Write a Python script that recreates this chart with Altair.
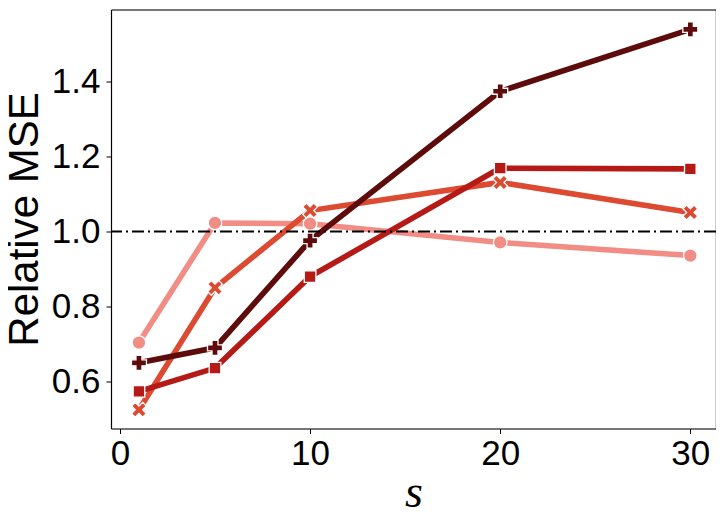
import altair as alt
import pandas as pd

# ---- data ----
s_values = [1, 5, 10, 20, 30]
series_names = ["method 1", "method 2", "method 3", "method 4"]
mse_1 = [0.704, 1.023, 1.021, 0.971, 0.936]
mse_2 = [0.525, 0.850, 1.056, 1.131, 1.051]
mse_3 = [0.574, 0.636, 0.880, 1.169, 1.167]
mse_4 = [0.650, 0.690, 0.976, 1.374, 1.539]
baseline_value = 1.0

series_values = [mse_1, mse_2, mse_3, mse_4]
series_colors = ["#F28D86", "#DC4A32", "#B51A16", "#5E0B0B"]
X_PATH = ("M-1,-0.5 L-0.5,-1 L0,-0.5 L0.5,-1 L1,-0.5 L0.5,0 L1,0.5 "
          "L0.5,1 L0,0.5 L-0.5,1 L-1,0.5 L-0.5,0 Z")
series_shapes = ["circle", X_PATH, "square", "cross"]
series_sizes = [185, 220, 135, 225]

rows = []
for name, vals in zip(series_names, series_values):
    for s, v in zip(s_values, vals):
        rows.append({"s": s, "mse": v, "series": name})
df = pd.DataFrame(rows)

x_scale = alt.Scale(domain=[-0.47, 31.35], nice=False, zero=False)
y_scale = alt.Scale(domain=[0.475, 1.592], nice=False, zero=False)

x_axis = alt.Axis(values=[0, 10, 20, 30], title="s", grid=False,
                  labelFontSize=35, labelFont="Liberation Sans", labelColor="black",
                  tickSize=5, tickColor="black", domainColor="black", domainWidth=1.2,
                  labelPadding=3,
                  titleFont="Liberation Serif", titleFontStyle="italic",
                  titleFontWeight="normal", titleFontSize=46, titleColor="black",
                  titleBaseline="alphabetic", titleY=78, titleX=302.5,
                  titleAlign="center")
y_axis = alt.Axis(values=[0.6, 0.8, 1.0, 1.2, 1.4], format=".1f", title="Relative MSE",
                  grid=False, labelFontSize=35, labelFont="Liberation Sans",
                  labelColor="black", tickSize=5, tickColor="black",
                  domainColor="black", domainWidth=1.2, labelPadding=6,
                  titleFont="Liberation Sans", titleFontWeight="normal",
                  titleFontSize=42, titleColor="black",
                  titleX=-74, titleY=209.5, titleBaseline="alphabetic",
                  titleAlign="center", titleAngle=270)
top_axis = alt.Axis(orient="top", title=None, labels=False, ticks=False, grid=False,
                    domainColor="black", domainWidth=1.2)
right_axis = alt.Axis(orient="right", title=None, labels=False, ticks=False, grid=False,
                      domainColor="black", domainWidth=1.2)

layers = []
for i, name in enumerate(series_names):
    base = alt.Chart(df).transform_filter(alt.datum.series == name)
    line = base.mark_line(strokeWidth=5.6, color=series_colors[i]).encode(
        x=alt.X("s:Q", scale=x_scale, axis=x_axis),
        y=alt.Y("mse:Q", scale=y_scale, axis=y_axis),
    )
    pts = base.mark_point(filled=True, fill=series_colors[i], stroke="white",
                          strokeWidth=1.3, opacity=1,
                          shape=series_shapes[i], size=series_sizes[i]).encode(
        x=alt.X("s:Q", scale=x_scale, axis=x_axis),
        y=alt.Y("mse:Q", scale=y_scale, axis=y_axis),
    )
    layers += [line, pts]

main = alt.layer(*layers)

rule = alt.Chart(pd.DataFrame({"v": [baseline_value], "u": [15.0]})).mark_rule(
    color="black", strokeWidth=2, strokeDash=[12, 4, 2, 4]
).encode(
    y=alt.Y("v:Q", scale=y_scale, axis=right_axis),
)
frame = alt.Chart(pd.DataFrame({"v": [baseline_value], "u": [15.0]})).mark_point(
    opacity=0, size=1
).encode(
    x=alt.X("u:Q", scale=x_scale, axis=top_axis),
    y=alt.Y("v:Q", scale=y_scale, axis=right_axis),
)

chart = alt.layer(main, rule, frame).resolve_axis(x="independent", y="independent").properties(
    width=605, height=419,
    autosize=alt.AutoSizeParams(type="none"),
    padding={"left": 103, "top": 1.5, "right": 0, "bottom": 87.5},
).configure_view(stroke=None).configure(background="white")

chart.save("out.html", embed_options={"renderer": "svg", "actions": False})
